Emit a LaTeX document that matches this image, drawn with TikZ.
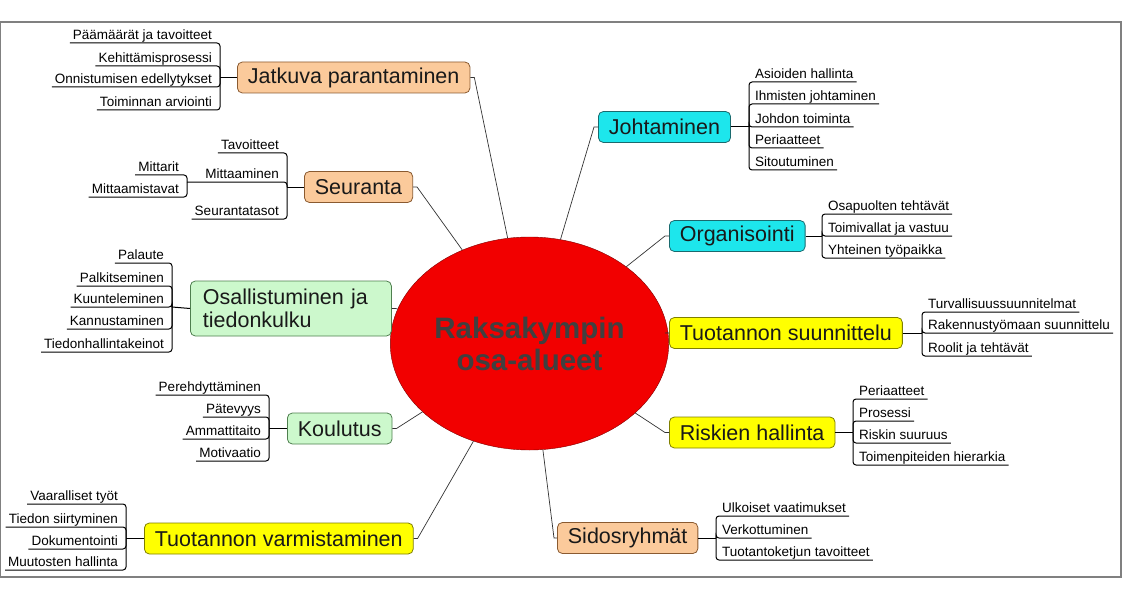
\documentclass[tikz,border=0pt]{standalone}
\usepackage{fontspec}
\setmainfont{Liberation Sans}
\usetikzlibrary{shapes.geometric}
\definecolor{peach}{HTML}{FBCA9B}
\definecolor{peachline}{HTML}{8A5A30}
\definecolor{aqua}{HTML}{1DE6EC}
\definecolor{aqualine}{HTML}{1A6A6E}
\definecolor{mint}{HTML}{CCF8CC}
\definecolor{mintline}{HTML}{4F7F4F}
\definecolor{lemon}{HTML}{FFFF00}
\definecolor{lemonline}{HTML}{7F7F00}
\definecolor{hubred}{HTML}{F20000}
\tikzset{
  topic/.style={draw, rounded corners=5pt, line width=0.8pt, anchor=west,
    inner xsep=10.5pt, minimum height=31pt, text=black!90,
    font=\fontsize{21.5}{23.5}\selectfont},
  leafl/.style={anchor=south east, inner xsep=3pt, inner ysep=3pt,
    text depth=0pt, font=\fontsize{13.5}{15}\selectfont},
  leafr/.style={leafl, anchor=south west},
  twig/.style={line width=1pt, rounded corners=3pt},
  link/.style={line width=0.7pt, black!80},
}

\begin{document}
\begin{tikzpicture}[x=1pt, y=-1pt]
      \useasboundingbox (0,0) rectangle (1122,599);
      \draw[black!50, line width=1.3pt] (0,22) rectangle (1121,577);
      % Define nodes
      \node[ellipse, draw=red!50!black, fill=hubred, minimum width=249pt,
        minimum height=213pt, align=center, text=black!75,
        font=\fontsize{29.5}{32}\selectfont\bfseries] (ctr) at (529.5,343.5)
        {Raksakympin\\osa-alueet};
      \node[topic, fill=peach, draw=peachline] (jat) at (237,77.5) {Jatkuva parantaminen};
      \node[topic, fill=peach, draw=peachline] (seu) at (304,187) {Seuranta};
      \node[topic, fill=mint, draw=mintline, minimum height=55pt, text width=176pt,
        inner xsep=12.5pt, align=left] (osa) at (190,308.5) {Osallistuminen ja\\tiedonkulku};
      \node[topic, fill=mint, draw=mintline] (kou) at (287,428.5) {Koulutus};
      \node[topic, fill=lemon, draw=lemonline] (var) at (144,538.5) {Tuotannon varmistaminen};
      \node[topic, fill=peach, draw=peachline] (sid) at (557,538) {Sidosryhmät};
      \node[topic, fill=lemon, draw=lemonline] (ris) at (669,432.5) {Riskien hallinta};
      \node[topic, fill=lemon, draw=lemonline] (suu) at (669,333) {Tuotannon suunnittelu};
      \node[topic, fill=aqua, draw=aqualine] (org) at (669,236) {Organisointi};
      \node[topic, fill=aqua, draw=aqualine] (joh) at (598,127) {Johtaminen};
      % Define brackets
      \coordinate (jatH) at (220,77.5);
      \coordinate (seuH) at (287,187);
      \coordinate (mitH) at (187,182);
      \coordinate (osaH) at (172,307);
      \coordinate (kouH) at (269,428.5);
      \coordinate (varH) at (126,538.5);
      \coordinate (sidH) at (716,538);
      \coordinate (risH) at (853,432.5);
      \coordinate (suuH) at (922,333);
      \coordinate (orgH) at (822,236);
      \coordinate (johH) at (749,127);
      % Define leaves
      \node[leafl] (j1) at (215,43) {Päämäärät ja tavoitteet};
      \node[leafl] (j2) at (215,66) {Kehittämisprosessi};
      \node[leafl] (j3) at (215,87) {Onnistumisen edellytykset};
      \node[leafl] (j4) at (215,110) {Toiminnan arviointi};
      \node[leafl] (s1) at (282,153) {Tavoitteet};
      \node[leafl] (s2) at (282,182) {Mittaaminen};
      \node[leafl] (s3) at (282,219) {Seurantatasot};
      \node[leafl] (s4) at (182,175) {Mittarit};
      \node[leafl] (s5) at (182,197) {Mittaamistavat};
      \node[leafl] (o1) at (167,263) {Palaute};
      \node[leafl] (o2) at (167,286) {Palkitseminen};
      \node[leafl] (o3) at (167,307) {Kuunteleminen};
      \node[leafl] (o4) at (167,329) {Kannustaminen};
      \node[leafl] (o5) at (167,352) {Tiedonhallintakeinot};
      \node[leafl] (k1) at (264,395) {Perehdyttäminen};
      \node[leafl] (k2) at (264,417) {Pätevyys};
      \node[leafl] (k3) at (264,439) {Ammattitaito};
      \node[leafl] (k4) at (264,461) {Motivaatio};
      \node[leafl] (v1) at (121,504) {Vaaralliset työt};
      \node[leafl] (v2) at (121,527) {Tiedon siirtyminen};
      \node[leafl] (v3) at (121,549) {Dokumentointi};
      \node[leafl] (v4) at (121,570) {Muutosten hallinta};
      \node[leafr] (h1) at (752,82) {Asioiden hallinta};
      \node[leafr] (h2) at (752,104) {Ihmisten johtaminen};
      \node[leafr] (h3) at (752,127) {Johdon toiminta};
      \node[leafr] (h4) at (752,148) {Periaatteet};
      \node[leafr] (h5) at (752,170) {Sitoutuminen};
      \node[leafr] (g1) at (825,214) {Osapuolten tehtävät};
      \node[leafr] (g2) at (825,236) {Toimivallat ja vastuu};
      \node[leafr] (g3) at (825,258) {Yhteinen työpaikka};
      \node[leafr] (t1) at (925,312) {Turvallisuussuunnitelmat};
      \node[leafr] (t2) at (925,333) {Rakennustyömaan suunnittelu};
      \node[leafr] (t3) at (925,356) {Roolit ja tehtävät};
      \node[leafr] (r1) at (856,399) {Periaatteet};
      \node[leafr] (r2) at (856,421) {Prosessi};
      \node[leafr] (r3) at (856,443) {Riskin suuruus};
      \node[leafr] (r4) at (856,465) {Toimenpiteiden hierarkia};
      \node[leafr] (d1) at (719,516) {Ulkoiset vaatimukset};
      \node[leafr] (d2) at (719,538) {Verkottuminen};
      \node[leafr] (d3) at (719,560) {Tuotantoketjun tavoitteet};
      % Connect nodes
      \draw[link] (jat.east) -- ++(4,0) -- (ctr);
      \draw[link] (seu.east) -- ++(4,0) -- (ctr);
      \draw[link] (osa.east) -- ++(4,0) -- (ctr);
      \draw[link] (kou.east) -- ++(4,0) -- (ctr);
      \draw[link] (var.east) -- ++(4,0) -- (ctr);
      \draw[link] (sid.west) -- ++(-3,0) -- (ctr);
      \draw[link] (ris.west) -- ++(-4,0) -- (ctr);
      \draw[link] (suu.west) -- ++(-4,0) -- (ctr);
      \draw[link] (org.west) -- ++(-4,0) -- (ctr);
      \draw[link] (joh.west) -- ++(-4,0) -- (ctr);
      \draw[twig] (jatH) -- (jat.west);
      \draw[twig] (seuH) -- (seu.west);
      \draw[twig] (osaH) -- (osa.west);
      \draw[twig] (kouH) -- (kou.west);
      \draw[twig] (varH) -- (var.west);
      \draw[twig] (sid.east) -- (sidH);
      \draw[twig] (ris.east) -- (risH);
      \draw[twig] (suu.east) -- (suuH);
      \draw[twig] (org.east) -- (orgH);
      \draw[twig] (joh.east) -- (johH);
      \foreach \n in {j1,j2,j3,j4}
        \draw[twig] (\n.south west) -- (\n.south west -| jatH) -- (jatH);
      \foreach \n in {s1,s3}
        \draw[twig] (\n.south west) -- (\n.south west -| seuH) -- (seuH);
      \draw[twig] (mitH) -- (mitH -| seuH) -- (seuH);
      \foreach \n in {s4,s5}
        \draw[twig] (\n.south west) -- (\n.south west -| mitH) -- (mitH);
      \foreach \n in {o1,o2,o3,o4,o5}
        \draw[twig] (\n.south west) -- (\n.south west -| osaH) -- (osaH);
      \foreach \n in {k1,k2,k3,k4}
        \draw[twig] (\n.south west) -- (\n.south west -| kouH) -- (kouH);
      \foreach \n in {v1,v2,v3,v4}
        \draw[twig] (\n.south west) -- (\n.south west -| varH) -- (varH);
      \foreach \n in {h1,h2,h3,h4,h5}
        \draw[twig] (\n.south east) -- (\n.south east -| johH) -- (johH);
      \foreach \n in {g1,g2,g3}
        \draw[twig] (\n.south east) -- (\n.south east -| orgH) -- (orgH);
      \foreach \n in {t1,t2,t3}
        \draw[twig] (\n.south east) -- (\n.south east -| suuH) -- (suuH);
      \foreach \n in {r1,r2,r3,r4}
        \draw[twig] (\n.south east) -- (\n.south east -| risH) -- (risH);
      \foreach \n in {d1,d2,d3}
        \draw[twig] (\n.south east) -- (\n.south east -| sidH) -- (sidH);
    \end{tikzpicture}
\end{document}
